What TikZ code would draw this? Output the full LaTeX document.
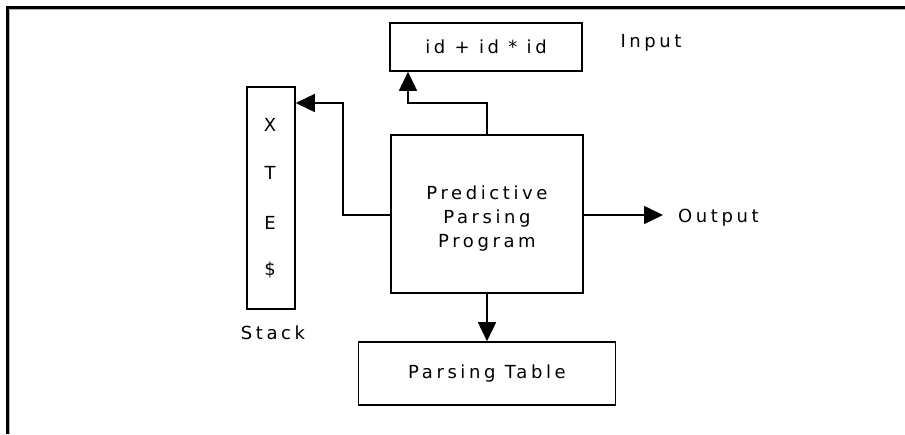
\documentclass[tikz,border=0pt]{standalone}
\usepackage{fontspec}
\setmainfont{DejaVu Sans}[LetterSpace=20]
\usetikzlibrary{arrows.meta}
\begin{document}
\begin{tikzpicture}[x=1pt,y=-1pt,
  font=\fontsize{18}{24}\selectfont,
  blk/.style={draw,line width=1.6pt,inner sep=0pt},
  lbl/.style={inner sep=0pt},
  conn/.style={line width=1.6pt,-{Triangle[length=19pt,width=18pt]}}]
\useasboundingbox (0,0) rectangle (905,434);
% page frame (top and left edges)
\draw[line width=3pt] (7.5,434) -- (7.5,7) -- (905,7);
\draw[gray!60,line width=1pt] (9.5,434) -- (9.5,9) -- (905,9);
% boxes
\node[blk,minimum width=192pt,minimum height=48pt] (inp) at (486,47) {id + id * id};
\node[blk,minimum width=48pt,minimum height=222pt] (stk) at (271,198) {};
\node[blk,minimum width=192pt,minimum height=158pt,
  label={[lbl,align=center,yshift=-5pt]center:Predictive\\Parsing\\Program}] (ppp) at (487,214) {};
\node[blk,minimum width=257pt,minimum height=63pt] (tbl) at (487,373.5) {Parsing Table};
% stack contents
\node[lbl] (sx) at (270,125) {X};
\node[lbl] (st) at (270,173) {T};
\node[lbl] (se) at (270,223) {E};
\node[lbl] (sd) at (270,270) {\$};
% labels
\node[lbl] (linp) at (651,43) {Input};
\node[lbl] (lstk) at (273,333) {Stack};
\node[lbl,anchor=west] (lout) at (678,218) {Output};
\coordinate (oute) at (663,215);
% connectors
\draw[conn] (ppp.west |- 0,215) -- (343,215) -- (343,103) -- (stk.east |- 0,103);
\draw[conn] (ppp.north) -- (487,103) -- (408,103) -- (inp.south -| 408,0);
\draw[conn] (ppp.east |- oute) -- (oute);
\draw[conn] (ppp.south) -- (tbl.north);
\end{tikzpicture}
\end{document}
